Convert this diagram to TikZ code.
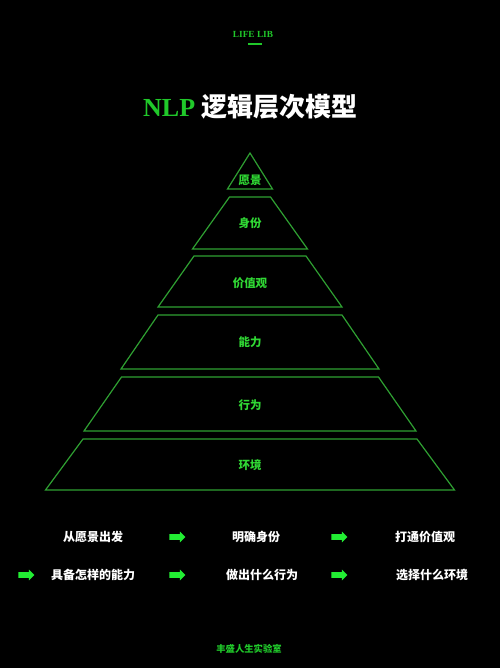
\documentclass[tikz,border=0pt]{standalone}
\usepackage{fontspec}
\usepackage{tikz}
\usetikzlibrary{shapes.arrows}
\setmainfont{Liberation Serif}
\newfontfamily\cjk{Noto Sans CJK SC}

\definecolor{nlpgreen}{HTML}{20C82A}
\definecolor{linegreen}{HTML}{2FA032}
\definecolor{labelgreen}{HTML}{30D834}
\definecolor{arrowgreen}{HTML}{22EE33}

\tikzset{
  layer/.style={draw=linegreen, line width=0.9pt, line join=miter},
  layerlabel/.style={inner sep=0.75pt, text=labelgreen, font=\cjk\bfseries\fontsize{8.6pt}{10pt}\selectfont},
  steptext/.style={inner sep=0.75pt, text=white, font=\cjk\bfseries\fontsize{9pt}{11pt}\selectfont},
  nextarrow/.style={single arrow, fill=arrowgreen, draw=none, inner sep=0pt,
    text height=1.9pt, text depth=1.9pt, text width=0pt,
    minimum height=12pt, minimum width=7.8pt, single arrow head extend=2pt,
    single arrow tip angle=90},
}

\begin{document}
\begin{tikzpicture}[x=0.75pt,y=0.75pt,yscale=-1,xscale=1]
%set diagram left start at 0, and has height of 668
\path[fill=black] (0,0) rectangle (500,668);

% Header
\node (brand) [inner sep=0.75pt, text=nlpgreen, font=\bfseries\fontsize{7pt}{8pt}\selectfont] at (253,34) {LIFE LIB};
\coordinate (brandL) at (248,44);
\coordinate (brandR) at (262,44);
\draw [nlpgreen, line width=0.8pt] (brandL) -- (brandR) ;

% Title
\node (title) [inner sep=0.75pt, font=\bfseries\fontsize{19.5pt}{22pt}\selectfont] at (250.5,107)
  {\textcolor{nlpgreen}{NLP}\hspace{5pt}\textcolor{white}{\cjk 逻辑层次模型}};

%Layer 1 (apex)
\draw [layer] (250,153) -- (272.5,189) -- (227.5,189) -- cycle ;
%Layer 2
\draw [layer] (229.5,197) -- (270.5,197) -- (307.5,249) -- (192.5,249) -- cycle ;
%Layer 3
\draw [layer] (194,256) -- (306,256) -- (342,307) -- (158,307) -- cycle ;
%Layer 4
\draw [layer] (158,315) -- (342,315) -- (379,369) -- (121,369) -- cycle ;
%Layer 5
\draw [layer] (121.5,377) -- (378.5,377) -- (416,431) -- (84,431) -- cycle ;
%Layer 6 (base)
\draw [layer] (83,439) -- (417,439) -- (454.5,490) -- (45.5,490) -- cycle ;

% Layer Text
\node (vision) [layerlabel] at (250,180) {愿景};
\node (identity) [layerlabel] at (250,223) {身份};
\node (values) [layerlabel] at (250,283) {价值观};
\node (ability) [layerlabel] at (250,342) {能力};
\node (behavior) [layerlabel] at (250,405) {行为};
\node (environ) [layerlabel] at (250,465) {环境};

% Steps row 1
\node (s1) [steptext] at (93,537) {从愿景出发};
\node (a1) [nextarrow] at (176,537) {};
\node (s2) [steptext] at (256,537) {明确身份};
\node (a2) [nextarrow] at (338,537) {};
\node (s3) [steptext] at (425,537) {打通价值观};
% Steps row 2
\node (a3) [nextarrow] at (25,575) {};
\node (s4) [steptext] at (93,575) {具备怎样的能力};
\node (a4) [nextarrow] at (176,575) {};
\node (s5) [steptext] at (262,575) {做出什么行为};
\node (a5) [nextarrow] at (338,575) {};
\node (s6) [steptext] at (432,575) {选择什么环境};

% Footer
\node (footer) [inner sep=0.75pt, text=nlpgreen, font=\cjk\bfseries\fontsize{7pt}{8pt}\selectfont] at (249,649) {丰盛人生实验室};

\end{tikzpicture}
\end{document}
